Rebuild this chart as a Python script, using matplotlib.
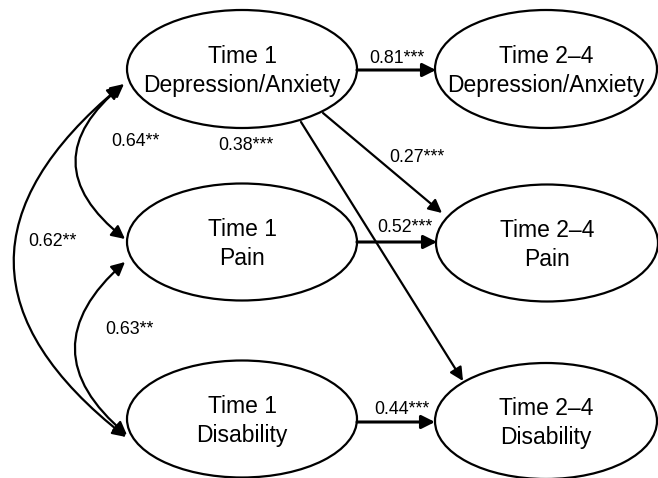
import matplotlib
matplotlib.use("Agg")
import matplotlib.pyplot as plt
from matplotlib.patches import Ellipse, FancyArrowPatch

# ---- data ----
node_names = ["Time 1\nDepression/Anxiety", "Time 2\u20134\nDepression/Anxiety",
              "Time 1\nPain", "Time 2\u20134\nPain",
              "Time 1\nDisability", "Time 2\u20134\nDisability"]
path_labels = ["0.81***", "0.52***", "0.44***", "0.27***", "0.38***"]
cov_labels = ["0.64**", "0.63**", "0.62**"]

# ---- layout (pixel coordinates) ----
W, H = 658, 478
fig = plt.figure(figsize=(W / 100, H / 100), dpi=100)
ax = fig.add_axes([0, 0, 1, 1])
ax.set_xlim(0, W)
ax.set_ylim(H, 0)
ax.axis("off")

FONT = "Liberation Sans"
centers = [(242, 69), (546, 69), (242, 242), (547, 243), (242, 419), (546, 421)]
sizes = [(230, 118), (222, 118), (230, 117), (222, 117), (230, 117), (222, 116)]
for name, (cx, cy), (w, h) in zip(node_names, centers, sizes):
    ax.add_patch(Ellipse((cx, cy), w, h, fill=False, lw=1.6, ec="black", zorder=2))
    ax.text(cx, cy + 2, name, ha="center", va="center", fontsize=16.5,
            family=FONT, linespacing=1.32, zorder=3)

def arrow(p1, p2, lw, style="-|>", rad=0.0):
    a = FancyArrowPatch(p1, p2, arrowstyle=style, mutation_scale=20, lw=lw,
                        color="black", shrinkA=0, shrinkB=0,
                        connectionstyle=f"arc3,rad={rad}", zorder=4)
    ax.add_patch(a)

# directed paths
path_geo = [((357, 70), (436, 70), 2.2),
            ((357, 242), (437, 242), 2.2),
            ((357, 422), (435, 422), 2.2),
            ((323, 113), (442, 213), 1.6),
            ((301, 122), (463, 381), 1.6)]
for (p1, p2, lw) in path_geo:
    arrow(p1, p2, lw)

path_pos = [(397, 58), (405, 227), (402, 410), (417, 158), (246, 146)]
for lab, (x, y) in zip(path_labels, path_pos):
    ax.text(x, y, lab, ha="center", va="center", fontsize=12.8, family=FONT, zorder=5)

# covariances (double headed curved arrows)
cov_geo = [((124, 84), (125, 239), 0.62),
           ((125, 262), (127, 435), 0.58),
           ((121, 86), (126, 437), 0.62)]
for (p1, p2, rad) in cov_geo:
    arrow(p1, p2, 1.6, style="<|-|>", rad=rad)

cov_pos = [(135, 141), (129, 329), (52, 241)]
for lab, (x, y) in zip(cov_labels, cov_pos):
    ax.text(x, y, lab, ha="center", va="center", fontsize=12.8, family=FONT, zorder=5)

fig.savefig("out.png", dpi=100, facecolor="white")
